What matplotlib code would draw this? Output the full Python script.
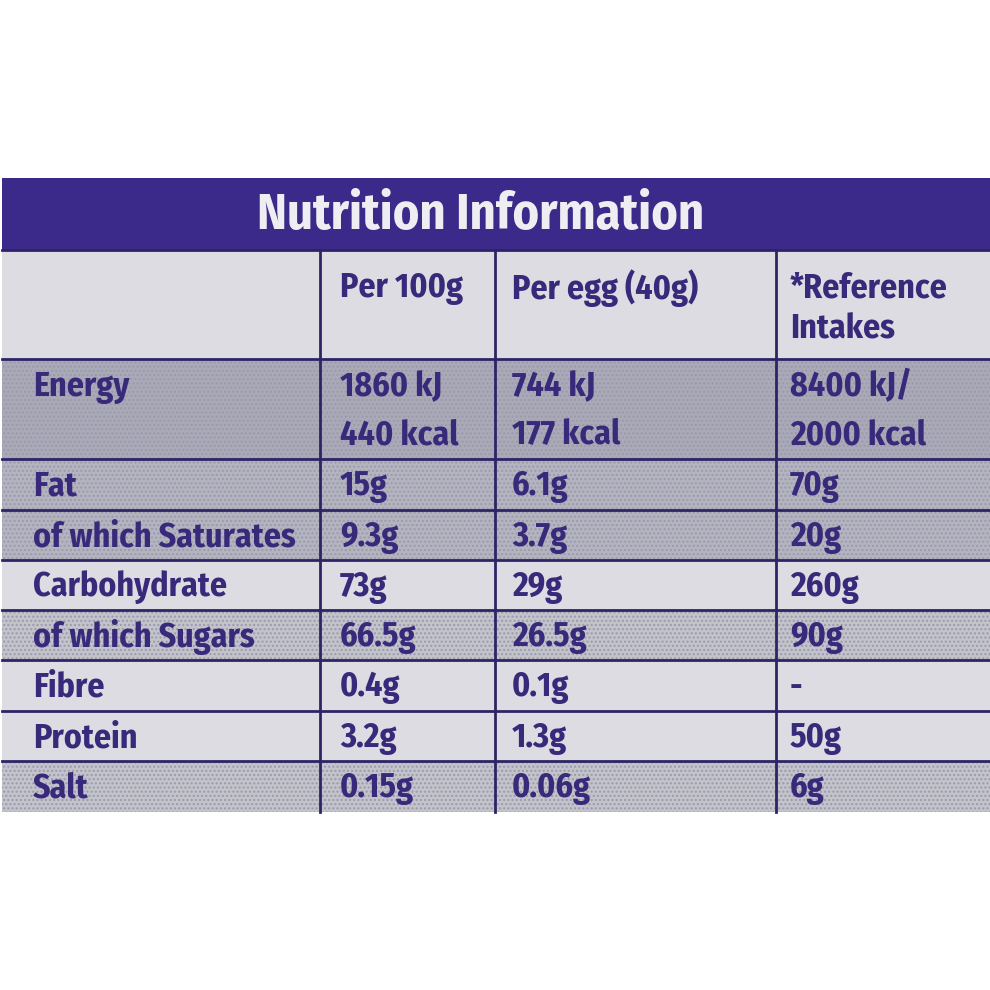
import numpy as np
import matplotlib; matplotlib.use('Agg'); import matplotlib.pyplot as plt
from matplotlib.patches import Rectangle
from matplotlib import font_manager as fm

# condensed bold sans, first one that is installed
have = {f.name for f in fm.fontManager.ttflist}
cands = ['Fira Sans Condensed', 'PT Sans Narrow', 'Roboto Condensed', 'Asap Condensed',
         'Encode Sans Condensed', 'Barlow Semi Condensed', 'Ubuntu Condensed',
         'Liberation Sans Narrow', 'Open Sans Condensed', 'Lato']
FONT = next((c for c in cands if c in have), 'DejaVu Sans')
plt.rcParams['font.family'] = [FONT, 'DejaVu Sans']

title = 'Nutrition Information'
col_heads = ['', 'Per 100g', 'Per egg (40g)', '*Reference\nIntakes']
nutrients = ['Energy', 'Fat', 'of which Saturates', 'Carbohydrate',
             'of which Sugars', 'Fibre', 'Protein', 'Salt']
per_100g = ['1860 kJ\n440 kcal', '15g', '9.3g', '73g', '66.5g', '0.4g', '3.2g', '0.15g']
per_egg = ['744 kJ\n177 kcal', '6.1g', '3.7g', '29g', '26.5g', '0.1g', '1.3g', '0.06g']
ref_intake = ['8400 kJ/\n2000 kcal', '70g', '20g', '260g', '90g', '-', '50g', '6g']
shade = ['dark', 'mid', 'mid', 'none', 'light', 'none', 'none', 'light']

# layout (pixels, y down)
xedges = [2, 320, 495, 776, 990]
text_x = [33, 340, 512, 790]
y_top, y_bar = 178, 250
row_edges = [359, 459, 510, 560, 610, 660, 711, 761, 812]
fills = {'none': '#dcdce2', 'light': '#c3c3cc', 'mid': '#b4b4c1', 'dark': '#a9a9b8'}
PURPLE = '#3c2a8b'; INK = '#38297a'; LINE = '#2d2466'

fig = plt.figure(figsize=(9.9, 9.9), dpi=100)
ax = fig.add_axes([0, 0, 1, 1])
ax.set_xlim(0, 990); ax.set_ylim(990, 0); ax.axis('off')
rend = fig.canvas.get_renderer()

def fit_size(s, target_px, size0=25):
    t = ax.text(0, 0, s, fontsize=size0, fontweight='bold')
    w = t.get_window_extent(rend).width
    t.remove()
    return size0 * target_px / w

FS = min(fit_size('of which Saturates', 263), 30)
FT = min(fit_size(title, 447, 37), 44)

W = xedges[-1] - xedges[0]
ax.add_patch(Rectangle((xedges[0], y_top), W, y_bar - y_top, color=PURPLE, lw=0))
ax.add_patch(Rectangle((xedges[0], y_bar), W, row_edges[0] - y_bar, color=fills['none'], lw=0))
ax.text(481, (y_top + y_bar) / 2 + 2, title, color='#eeeef2', fontsize=FT,
        fontweight='bold', ha='center', va='center')

# column headings
for x, h in zip(text_x, col_heads):
    for k, line in enumerate(h.split('\n')):
        ax.text(x, 288 + k * 41, line, color=INK, fontsize=FS, fontweight='bold',
                ha='left', va='center')

# body rows
cols = [nutrients, per_100g, per_egg, ref_intake]
for i, s in enumerate(shade):
    y0, y1 = row_edges[i], row_edges[i + 1]
    ax.add_patch(Rectangle((xedges[0], y0), W, y1 - y0, facecolor=fills[s], lw=0))
    if s != 'none':
        ax.add_patch(Rectangle((xedges[0], y0), W, y1 - y0, facecolor='none',
                               edgecolor='#9a9aab', hatch='....', lw=0))
    yc = (y0 + y1) / 2 + 2
    nmax = max(len(c[i].split('\n')) for c in cols)
    for x, col in zip(text_x, cols):
        for k, line in enumerate(col[i].split('\n')):
            ax.text(x, yc + (k - (nmax - 1) / 2) * 48, line, color=INK, fontsize=FS,
                    fontweight='bold', ha='left', va='center')

# grid lines
for y in [y_bar] + row_edges[:-1]:
    ax.plot([xedges[0], xedges[-1]], [y, y], color=LINE, lw=2)
for x in xedges[1:4]:
    ax.plot([x, x], [y_bar, row_edges[-1]], color=LINE, lw=2)

fig.savefig('out.png', dpi=100, facecolor='white')
